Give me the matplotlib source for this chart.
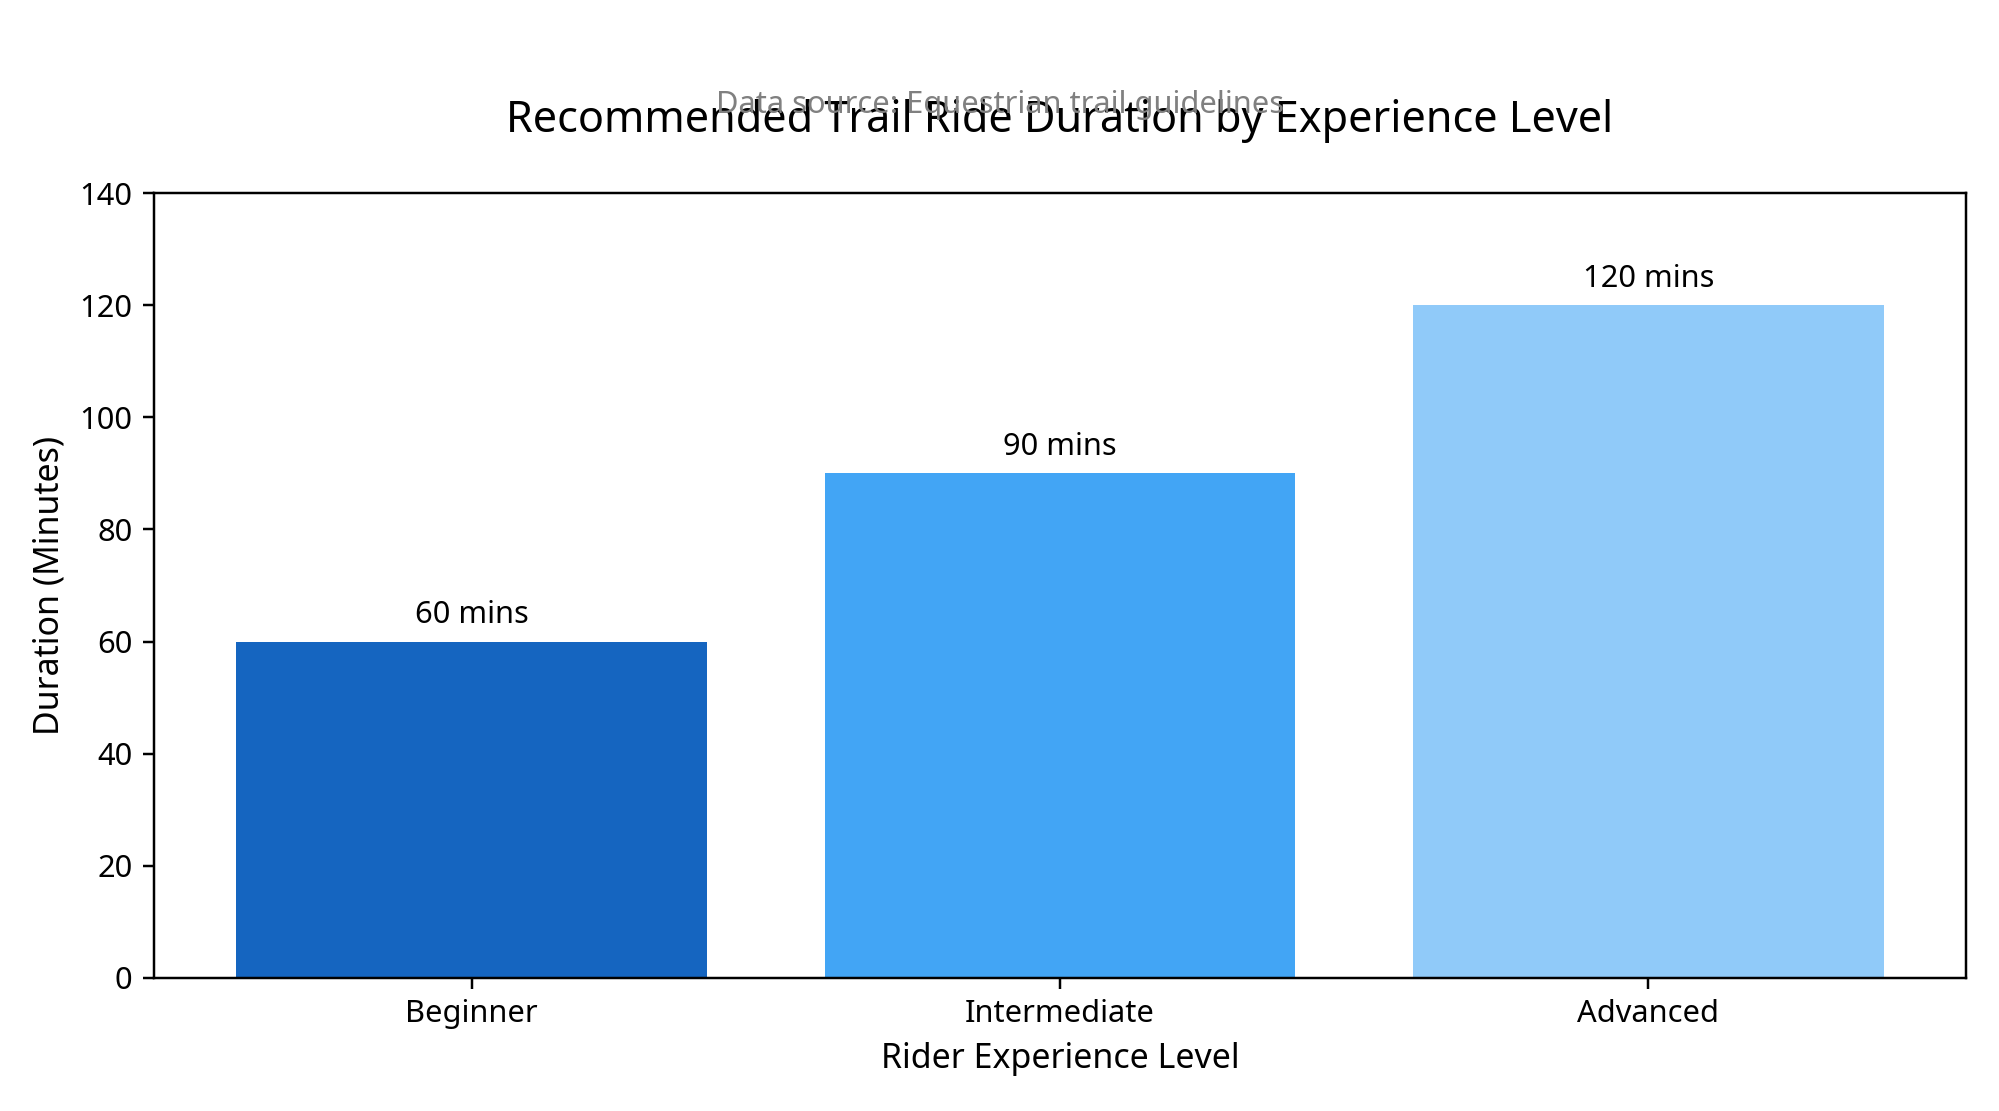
import matplotlib
matplotlib.use("Agg")
import matplotlib.pyplot as plt

plt.rcParams['font.family'] = ['Noto Sans', 'DejaVu Sans']

categories = ["Beginner", "Intermediate", "Advanced"]
durations = [60, 90, 120]
bar_labels = ["60 mins", "90 mins", "120 mins"]
colors = ["#1565C0", "#42A5F5", "#90CAF9"]

DPI = 222.1
fig = plt.figure(figsize=(1999 / DPI, 1111 / DPI), dpi=DPI)
ax = fig.add_axes([0.077, 0.12, 0.9065, 0.706])

bars = ax.bar(categories, durations, color=colors)
for b, lab in zip(bars, bar_labels):
    ax.annotate(lab, (b.get_x() + b.get_width() / 2, b.get_height()),
                xytext=(0, 3.8), textcoords="offset points",
                ha="center", va="bottom", fontsize=10)

ax.set_ylim(0, 140)
ax.set_title("Recommended Trail Ride Duration by Experience Level", fontsize=14, pad=20)
ax.set_xlabel("Rider Experience Level", fontsize=11)
ax.set_ylabel("Duration (Minutes)", fontsize=11)
ax.tick_params(labelsize=10)

fig.text(0.5, 0.898, "Data source: Equestrian trail guidelines", ha="center", va="baseline",
         fontsize=10, color="gray")

fig.savefig("out.png", dpi=DPI)
